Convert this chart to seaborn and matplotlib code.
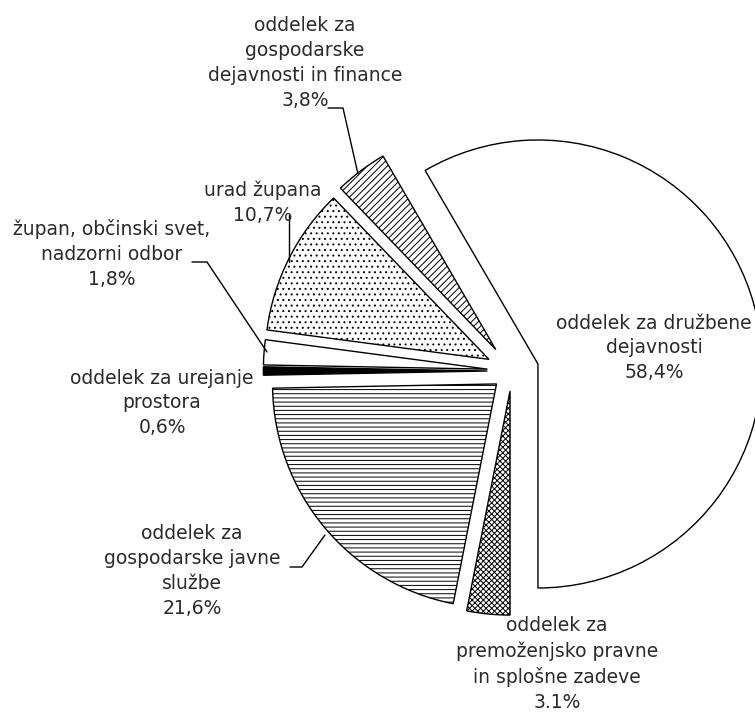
import matplotlib
matplotlib.use("Agg")
import matplotlib.pyplot as plt
import seaborn as sns

# data (clockwise from the big slice)
departments = [
    "oddelek za družbene\ndejavnosti",
    "oddelek za\ngospodarske\ndejavnosti in finance",
    "urad župana",
    "župan, občinski svet,\nnadzorni odbor",
    "oddelek za urejanje\nprostora",
    "oddelek za\ngospodarske javne\nslužbe",
    "oddelek za\npremoženjsko pravne\nin splošne zadeve",
]
shares = [58.4, 3.8, 10.7, 1.8, 0.6, 21.6, 3.1]
share_labels = ["58,4%", "3,8%", "10,7%", "1,8%", "0,6%", "21,6%", "3.1%"]

# styling of the slices
explode = [0.12, 0.12, 0.115, 0.11, 0.11, 0.09, 0.09]
faces = ["white", "white", "white", "white", "black", "white", "white"]
hatches = [None, "/////", "...", None, None, "----", "xxxxxx"]

# label layout in pixels (centre of the text block) and leader lines
label_pos = [(654, 348), (305, 63), (263, 203), (112, 254), (162, 403), (192, 571), (557, 664)]
leaders = {
    1: [(328, 108), (343, 108), (358, 174)],
    2: [(289, 215), (289, 262)],
    3: [(192, 262), (207, 262), (267, 352)],
    5: [(290, 567), (302, 567), (325, 535)],
}

W, H = 755, 715
CX, CY, R = 512, 371, 224


def px(x, y):
    return (x - CX) / R, (CY - y) / R


sns.set_theme(style="white")
plt.rcParams["font.family"] = ["DejaVu Sans"]
plt.rcParams["hatch.linewidth"] = 0.7

fig = plt.figure(figsize=(W / 100, H / 100), dpi=100)
ax = fig.add_axes([0, 0, 1, 1])

wedges, _ = ax.pie(shares, explode=explode, startangle=-90, counterclock=True,
                   colors=faces, radius=1.0,
                   wedgeprops=dict(edgecolor="black", linewidth=1.0))
for w, h in zip(wedges, hatches):
    if h:
        w.set_hatch(h)

ax.set_xlim(px(0, 0)[0], px(W, 0)[0])
ax.set_ylim(px(0, H)[1], px(0, 0)[1])
ax.axis("off")

for i, (name, pct) in enumerate(zip(departments, share_labels)):
    x, y = px(*label_pos[i])
    ax.text(x, y, name + "\n" + pct, ha="center", va="center", fontsize=13.5,
            color="#2a2a2a", linespacing=1.38, multialignment="center")

for i, pts in leaders.items():
    xs, ys = zip(*[px(*p) for p in pts])
    ax.plot(xs, ys, color="black", lw=1.0)

fig.savefig("out.png", dpi=100)
